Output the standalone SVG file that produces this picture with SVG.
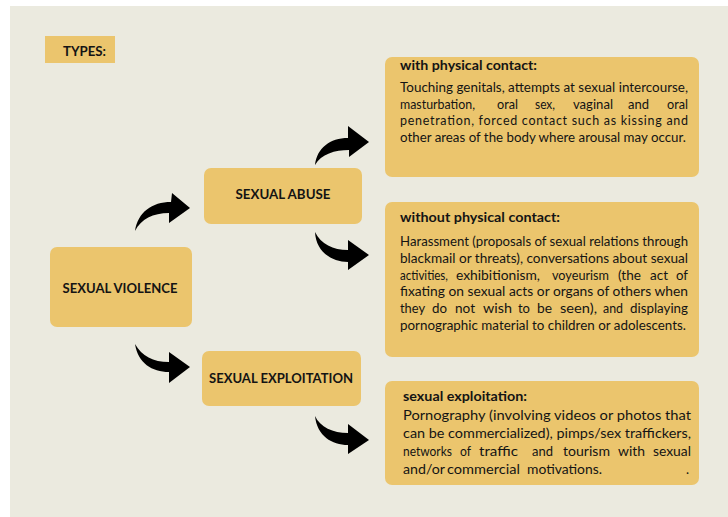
<svg xmlns="http://www.w3.org/2000/svg" width="728" height="517" viewBox="0 0 728 517">
<style>
.bg{fill:#EBEADF}
.box{fill:#EBC56D}
.t{font-family:Lato,"Liberation Sans",sans-serif;fill:#141414}
.b{font-weight:bold}
.lbl{font-family:Lato,"Liberation Sans",sans-serif;font-weight:bold;font-size:13px;fill:#141414;text-anchor:middle}
.body{font-size:12.5px}
.body3{font-size:13px}
.e{text-anchor:end}
.arrow{fill:#000}
</style>
<rect x="0" y="0" width="728" height="517" fill="#fff"/>
<rect class="bg" x="10" y="6" width="718" height="511"/>

<g id="types">
<rect class="box" x="45" y="36" width="70" height="27"/>
<text class="t b" x="63" y="56" font-size="12.5" textLength="43" lengthAdjust="spacingAndGlyphs">TYPES:</text>
</g>

<g id="sexual-violence">
<rect class="box" x="50" y="247" width="142" height="80" rx="7"/>
<text class="lbl" x="120" y="293" textLength="115" lengthAdjust="spacingAndGlyphs">SEXUAL VIOLENCE</text>
</g>

<g id="sexual-abuse">
<rect class="box" x="204" y="168" width="158" height="56" rx="7"/>
<text class="lbl" x="283" y="199" textLength="95" lengthAdjust="spacingAndGlyphs">SEXUAL ABUSE</text>
</g>

<g id="sexual-exploitation">
<rect class="box" x="202" y="351" width="159" height="55" rx="7"/>
<text class="lbl" x="281" y="383" textLength="144" lengthAdjust="spacingAndGlyphs">SEXUAL EXPLOITATION</text>
</g>

<g id="with-physical-contact">
<rect class="box" x="385" y="57" width="314" height="120" rx="7"/>
<text class="t b" x="400" y="70" font-size="13" textLength="137" lengthAdjust="spacingAndGlyphs">with physical contact:</text>
<text class="t body" x="400" y="92" textLength="288" lengthAdjust="spacingAndGlyphs">Touching genitals, attempts at sexual intercourse,</text>
<g class="t body" lengthAdjust="spacingAndGlyphs">
<text x="400" y="109" textLength="75" lengthAdjust="spacingAndGlyphs">masturbation,</text>
<text x="497" y="109" textLength="21" lengthAdjust="spacingAndGlyphs">oral</text>
<text x="535" y="109" textLength="20" lengthAdjust="spacingAndGlyphs">sex,</text>
<text x="573" y="109" textLength="40" lengthAdjust="spacingAndGlyphs">vaginal</text>
<text x="628" y="109" textLength="21" lengthAdjust="spacingAndGlyphs">and</text>
<text x="667" y="109" textLength="21" lengthAdjust="spacingAndGlyphs">oral</text>
</g>
<text class="t body" x="400" y="125" textLength="288" lengthAdjust="spacing">penetration, forced contact such as kissing and</text>
<text class="t body" x="400" y="142" textLength="286" lengthAdjust="spacingAndGlyphs">other areas of the body where arousal may occur.</text>
</g>

<g id="without-physical-contact">
<rect class="box" x="385" y="202" width="314" height="155" rx="7"/>
<text class="t b" x="400" y="222" font-size="13" textLength="160" lengthAdjust="spacingAndGlyphs">without physical contact:</text>
<text class="t body" x="400" y="246" textLength="288" lengthAdjust="spacingAndGlyphs">Harassment (proposals of sexual relations through</text>
<text class="t body" x="400" y="263" textLength="288" lengthAdjust="spacingAndGlyphs">blackmail or threats), conversations about sexual</text>
<g class="t body">
<text x="400" y="280" textLength="48" lengthAdjust="spacingAndGlyphs">activities,</text>
<text x="456" y="280" textLength="84" lengthAdjust="spacingAndGlyphs">exhibitionism,</text>
<text x="552" y="280" textLength="57" lengthAdjust="spacingAndGlyphs">voyeurism</text>
<text x="618" y="280" textLength="23" lengthAdjust="spacingAndGlyphs">(the</text>
<text x="650" y="280" textLength="18" lengthAdjust="spacingAndGlyphs">act</text>
<text x="676" y="280" textLength="12" lengthAdjust="spacingAndGlyphs">of</text>
</g>
<text class="t body" x="400" y="296" textLength="288" lengthAdjust="spacingAndGlyphs">fixating on sexual acts or organs of others when</text>
<g class="t body">
<text x="400" y="313" textLength="25" lengthAdjust="spacingAndGlyphs">they</text>
<text x="432" y="313" textLength="15" lengthAdjust="spacingAndGlyphs">do</text>
<text x="455" y="313" textLength="20" lengthAdjust="spacingAndGlyphs">not</text>
<text x="483" y="313" textLength="29" lengthAdjust="spacingAndGlyphs">wish</text>
<text x="518" y="313" textLength="12" lengthAdjust="spacingAndGlyphs">to</text>
<text x="537" y="313" textLength="15" lengthAdjust="spacingAndGlyphs">be</text>
<text x="560" y="313" textLength="37" lengthAdjust="spacingAndGlyphs">seen),</text>
<text x="603" y="313" textLength="20" lengthAdjust="spacingAndGlyphs">and</text>
<text x="630" y="313" textLength="58" lengthAdjust="spacingAndGlyphs">displaying</text>
</g>
<text class="t body" x="400" y="330" textLength="286" lengthAdjust="spacingAndGlyphs">pornographic material to children or adolescents.</text>
</g>

<g id="sexual-exploitation-detail">
<rect class="box" x="385" y="381" width="314" height="104" rx="7"/>
<text class="t b" x="403" y="401" font-size="13" textLength="124" lengthAdjust="spacingAndGlyphs">sexual exploitation:</text>
<text class="t body3" x="403" y="420" textLength="288" lengthAdjust="spacingAndGlyphs">Pornography (involving videos or photos that</text>
<text class="t body3" x="403" y="438" textLength="288" lengthAdjust="spacingAndGlyphs">can be commercialized), pimps/sex traffickers,</text>
<g class="t body3">
<text x="403" y="456" textLength="49" lengthAdjust="spacingAndGlyphs">networks</text>
<text x="460" y="456" textLength="11" lengthAdjust="spacingAndGlyphs">of</text>
<text x="479" y="456" textLength="39" lengthAdjust="spacingAndGlyphs">traffic</text>
<text x="532" y="456" textLength="21" lengthAdjust="spacingAndGlyphs">and</text>
<text x="563" y="456" textLength="47" lengthAdjust="spacingAndGlyphs">tourism</text>
<text x="618" y="456" textLength="27" lengthAdjust="spacingAndGlyphs">with</text>
<text x="653" y="456" textLength="38" lengthAdjust="spacingAndGlyphs">sexual</text>
<text x="403" y="474" textLength="42" lengthAdjust="spacingAndGlyphs">and/or</text>
<text x="447" y="474" textLength="73" lengthAdjust="spacingAndGlyphs">commercial</text>
<text x="527" y="474" textLength="75" lengthAdjust="spacingAndGlyphs">motivations.</text>
<text x="686" y="474">.</text>
</g>
</g>

<g id="connectors">
<path class="arrow" d="M135,231 C138,212 152,202 171,202 L172,193 L190,208 L169,223 L169,213 C153,213 141,219 135,231 Z"/>
<path class="arrow" d="M135,344 C138,363 152,372 169,372 L169,383 L190,367 L169,352 L169,362 C153,362 142,356 135,344 Z"/>
<path class="arrow" d="M315,165 C317,148 330,138 348,138 L348,126 L369,142 L349,157 L349,150 C335,150 321,154 315,165 Z"/>
<path class="arrow" d="M315,232 C316,252 332,262 348,262 L348,270 L369,255 L348,240 L348,250 C333,250 321,244 315,232 Z"/>
<path class="arrow" d="M315,416 C317,436 332,445 348,445 L348,454 L369,440 L348,424 L348,433 C333,433 320,427 315,416 Z"/>
</g>
</svg>
